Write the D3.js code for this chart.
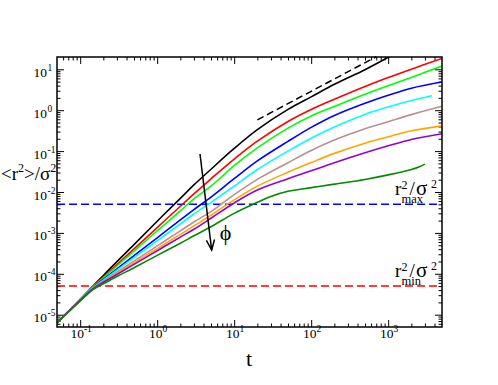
<!DOCTYPE html>
<html>
<head>
<meta charset="utf-8">
<script src="https://cdn.jsdelivr.net/npm/d3@7"></script>
<style>
body { margin: 0; background: #fff; }
text { font-family: "Liberation Serif", "Times New Roman", serif; fill: #000; }
.axis path { display: none; }
.axis line { stroke: #000; stroke-width: 1; }
</style>
</head>
<body>
<script>
// mean square displacement <r^2>/sigma^2 vs t, one curve per packing fraction phi
const tBase = [0.05, 0.1, 0.15, 0.2, 0.3, 0.5, 1, 2, 3, 5, 10, 20, 50, 100, 200, 500, 1000, 2000, 5000];
const tBlack = [0.05, 0.1, 0.15, 0.2, 0.3, 0.5, 1, 2, 3, 5, 10, 20, 50, 100, 200, 500, 1000, 1100];
const tCyan = [0.05, 0.1, 0.15, 0.2, 0.3, 0.5, 1, 2, 3, 5, 10, 20, 50, 100, 200, 500, 1000, 2000, 3700];
const tDkGreen = [0.05, 0.1, 0.15, 0.2, 0.3, 0.5, 1, 2, 3, 5, 10, 20, 30, 50, 100, 200, 500, 1000, 2000, 2500, 3000];

const msdBlack  = [6.3e-6, 2.37e-5, 5.24e-5, 9.1e-5, 1.99e-4, 5.15e-4, 1.93e-3, 7.0e-3, 1.49e-2, 3.6e-2, 0.116, 0.335, 1.05, 2.12, 4.3, 9.8, 19.6, 21.6];
const msdRed    = [6.3e-6, 2.32e-5, 5.07e-5, 8.4e-5, 1.68e-4, 4.06e-4, 1.35e-3, 4.48e-3, 8.96e-3, 0.021, 0.064, 0.175, 0.53, 1.04, 1.85, 3.8, 6.3, 10.1, 18.4];
const msdGreen  = [6.3e-6, 2.32e-5, 4.99e-5, 8.0e-5, 1.55e-4, 3.6e-4, 1.12e-3, 3.46e-3, 6.8e-3, 0.0139, 0.044, 0.12, 0.365, 0.72, 1.24, 2.45, 3.97, 6.34, 12.0];
const msdBlue   = [6.3e-6, 2.3e-5, 4.82e-5, 7.35e-5, 1.32e-4, 2.79e-4, 7.6e-4, 2.07e-3, 3.72e-3, 7.5e-3, 0.0211, 0.0575, 0.173, 0.38, 0.744, 1.48, 2.32, 3.46, 4.9];
const msdCyan   = [6.3e-6, 2.29e-5, 4.73e-5, 7.0e-5, 1.23e-4, 2.48e-4, 6.4e-4, 1.66e-3, 2.9e-3, 5.6e-3, 0.0139, 0.0355, 0.1, 0.207, 0.39, 0.79, 1.2, 1.73, 2.26];
const msdBrown  = [6.3e-6, 2.28e-5, 4.65e-5, 6.6e-5, 1.09e-4, 2.04e-4, 4.8e-4, 1.12e-3, 1.85e-3, 3.3e-3, 8.6e-3, 0.0203, 0.052, 0.104, 0.186, 0.35, 0.52, 0.78, 1.25];
const msdOrange = [6.3e-6, 2.27e-5, 4.56e-5, 6.3e-5, 1.02e-4, 1.85e-4, 4.14e-4, 9.2e-4, 1.48e-3, 2.7e-3, 6.4e-3, 0.0139, 0.0304, 0.0524, 0.088, 0.156, 0.224, 0.313, 0.414];
const msdViolet = [6.3e-6, 2.26e-5, 4.48e-5, 6.2e-5, 9.6e-5, 1.7e-4, 3.66e-4, 7.9e-4, 1.23e-3, 2.28e-3, 5.4e-3, 0.0112, 0.0211, 0.033, 0.052, 0.091, 0.135, 0.193, 0.266];
const msdDkGreen = [6.3e-6, 2.15e-5, 4.23e-5, 5.7e-5, 8.6e-5, 1.41e-4, 2.82e-4, 5.6e-4, 8.5e-4, 1.41e-3, 3.0e-3, 5.6e-3, 7.8e-3, 0.0104, 0.0128, 0.0156, 0.0203, 0.0262, 0.0355, 0.041, 0.048];

// diffusive guide line (slope 1)
const tGuide = [20, 700];
const msdGuide = [0.58, 20.3];

// r_min^2 / sigma^2 and r_max^2 / sigma^2 levels
const rMin2 = 5e-5;
const rMax2 = 5e-3;

// arrow (increasing phi)
const arrowT = [3.6, 5.1];
const arrowY = [0.085, 3.8e-4];

const xMajor = [0.1, 1, 10, 100, 1000];
const xExp = ["-1", "0", "1", "2", "3"];
const yMajor = [1e-5, 1e-4, 1e-3, 1e-2, 1e-1, 1, 10];
const yExp = ["-5", "-4", "-3", "-2", "-1", "0", "1"];

const W = 498, H = 385;
const pLeft = 57, pRight = 442, pTop = 57, pBottom = 327;

const svg = d3.select("body").append("svg")
    .attr("width", W)
    .attr("height", H);

const x = d3.scaleLog().domain([0.05, 5000]).range([pLeft, pRight]);
const y = d3.scaleLog().domain([5e-6, 20]).range([pBottom, pTop]);

function minors(lo, hi) {
    const out = [];
    for (let e = -7; e <= 4; e++) {
        for (let k = 2; k <= 9; k++) {
            const v = k * Math.pow(10, e);
            if (v > lo * 1.001 && v < hi * 0.999) out.push(v);
        }
    }
    return out;
}
const xMinor = minors(0.05, 5000);
const yMinor = minors(5e-6, 20);

svg.append("defs").append("clipPath").attr("id", "plot")
    .append("rect")
    .attr("x", pLeft).attr("y", pTop)
    .attr("width", pRight - pLeft).attr("height", pBottom - pTop);

// ticks on all four sides, pointing inwards
function ticks(axisFn, scale, vals, size, tx, ty) {
    svg.append("g")
        .attr("class", "axis")
        .attr("transform", "translate(" + tx + "," + ty + ")")
        .call(axisFn(scale).tickValues(vals).tickSize(size).tickFormat(""));
}
ticks(d3.axisBottom, x, xMajor, -7, 0, pBottom);
ticks(d3.axisBottom, x, xMinor, -3.5, 0, pBottom);
ticks(d3.axisTop, x, xMajor, -7, 0, pTop);
ticks(d3.axisTop, x, xMinor, -3.5, 0, pTop);
ticks(d3.axisLeft, y, yMajor, -7, pLeft, 0);
ticks(d3.axisLeft, y, yMinor, -3.5, pLeft, 0);
ticks(d3.axisRight, y, yMajor, -7, pRight, 0);
ticks(d3.axisRight, y, yMinor, -3.5, pRight, 0);

// tick labels 10^n
const xl = svg.append("g").selectAll("text")
    .data(xMajor)
    .enter()
    .append("text")
    .attr("x", d => x(d) + 1)
    .attr("y", pBottom + 10.5)
    .attr("text-anchor", "middle")
    .attr("font-size", "13.5px");
xl.append("tspan").text("10");
xl.append("tspan").attr("dy", -6).attr("font-size", "9.5px").text((d, i) => xExp[i]);

const yl = svg.append("g");
yl.selectAll("text.b")
    .data(yMajor)
    .enter()
    .append("text")
    .attr("class", "b")
    .attr("x", 47)
    .attr("y", d => y(d) + 7.5)
    .attr("text-anchor", "end")
    .attr("font-size", "13.5px")
    .text("10");
yl.selectAll("text.e")
    .data(yMajor)
    .enter()
    .append("text")
    .attr("class", "e")
    .attr("x", 47.5)
    .attr("y", d => y(d) + 1.5)
    .attr("font-size", "9.5px")
    .text((d, i) => yExp[i]);

// horizontal reference levels
svg.append("line")
    .attr("x1", pLeft).attr("x2", pRight)
    .attr("y1", y(rMax2)).attr("y2", y(rMax2))
    .attr("stroke", "#0000ff").attr("stroke-width", 1.5)
    .attr("stroke-dasharray", "8,4");
svg.append("line")
    .attr("x1", pLeft).attr("x2", pRight)
    .attr("y1", y(rMin2)).attr("y2", y(rMin2))
    .attr("stroke", "#ff0000").attr("stroke-width", 1.5)
    .attr("stroke-dasharray", "8,4");

const series = [
    {t: tBlack, v: msdBlack, c: "#000000"},
    {t: tBase, v: msdRed, c: "#ff0000"},
    {t: tBase, v: msdGreen, c: "#00ff00"},
    {t: tBase, v: msdBlue, c: "#0000ff"},
    {t: tCyan, v: msdCyan, c: "#00ffff"},
    {t: tBase, v: msdBrown, c: "#bc8f8f"},
    {t: tBase, v: msdOrange, c: "#ffa500"},
    {t: tBase, v: msdViolet, c: "#9400d3"},
    {t: tDkGreen, v: msdDkGreen, c: "#008b00"}
];

const line = d3.line()
    .x(d => x(d[0]))
    .y(d => y(d[1]))
    .curve(d3.curveCatmullRom.alpha(0.5));

svg.append("g")
    .attr("clip-path", "url(#plot)")
    .selectAll("path")
    .data(series)
    .enter()
    .append("path")
    .attr("d", s => line(s.t.map((t, i) => [t, s.v[i]])))
    .attr("fill", "none")
    .attr("stroke", s => s.c)
    .attr("stroke-width", 1.6);

// slope-1 guide
svg.append("path")
    .attr("d", d3.line().x(d => x(d[0])).y(d => y(d[1]))(tGuide.map((t, i) => [t, msdGuide[i]])))
    .attr("fill", "none")
    .attr("stroke", "#000")
    .attr("stroke-width", 1.5)
    .attr("stroke-dasharray", "7,4");

// frame
svg.append("rect")
    .attr("x", pLeft).attr("y", pTop)
    .attr("width", pRight - pLeft).attr("height", pBottom - pTop)
    .attr("fill", "none")
    .attr("stroke", "#000")
    .attr("stroke-width", 1.5);

// arrow
const ax1 = x(arrowT[0]), ay1 = y(arrowY[0]);
const ax2 = x(arrowT[1]), ay2 = y(arrowY[1]);
svg.append("line")
    .attr("x1", ax1).attr("y1", ay1).attr("x2", ax2).attr("y2", ay2)
    .attr("stroke", "#000").attr("stroke-width", 1.5);
const ang = Math.atan2(ay2 - ay1, ax2 - ax1);
const hl = 11, hw = 0.38;
svg.append("polyline")
    .attr("points", [
        [ax2 - hl * Math.cos(ang - hw), ay2 - hl * Math.sin(ang - hw)],
        [ax2, ay2],
        [ax2 - hl * Math.cos(ang + hw), ay2 - hl * Math.sin(ang + hw)]
    ].map(p => p.join(",")).join(" "))
    .attr("fill", "none")
    .attr("stroke", "#000").attr("stroke-width", 1.5);

svg.append("text")
    .attr("x", ax2 + 8).attr("y", ay2 - 10)
    .attr("font-size", "22px")
    .text("\u03D5");

// level labels: r^2_sub / sigma^2 as one text element
function levelLabel(val, sub) {
    const by = y(val) - 9;
    const tx = svg.append("text").attr("x", 395).attr("y", by).attr("font-size", "19px");
    tx.append("tspan").text("r");
    tx.append("tspan").attr("x", 401.5).attr("y", by - 6).attr("font-size", "12px").text("2");
    tx.append("tspan").attr("x", 401.5).attr("y", by + 7.5).attr("font-size", "12.5px").text(sub);
    tx.append("tspan").attr("x", 409.5).attr("y", by).text("/");
    tx.append("tspan").attr("x", 416).attr("y", by).attr("font-size", "21px").text("\u03C3");
    tx.append("tspan").attr("x", 431).attr("y", by - 7).attr("font-size", "12px").text("2");
}
levelLabel(rMax2, "max");
levelLabel(rMin2, "min");

// axis titles
svg.append("text")
    .attr("x", 249).attr("y", 366)
    .attr("text-anchor", "middle")
    .attr("font-size", "22px")
    .text("t");

const yt = svg.append("text")
    .attr("x", 1).attr("y", 180)
    .attr("font-size", "19px");
yt.append("tspan").text("<r");
yt.append("tspan").attr("dy", -8).attr("font-size", "12px").text("2");
yt.append("tspan").attr("dy", 8).text(">/\u03C3");
yt.append("tspan").attr("dy", -8).attr("font-size", "12px").text("2");
</script>
</body>
</html>
